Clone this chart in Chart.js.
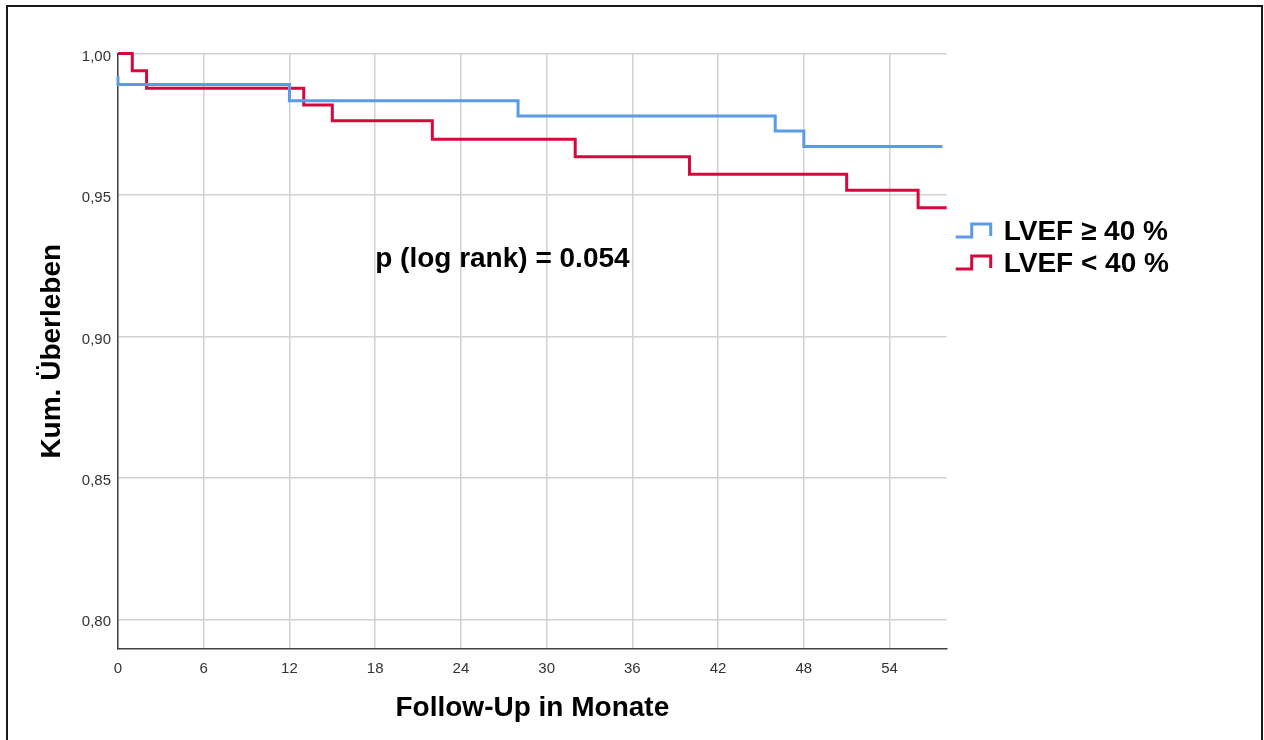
<!DOCTYPE html>
<html>
<head>
<meta charset="utf-8">
<script src="https://cdn.jsdelivr.net/npm/chart.js@4.4.1/dist/chart.umd.min.js"></script>
<style>
  html, body { margin: 0; padding: 0; background: #fff; overflow: hidden; }
  #wrap { position: relative; width: 1264px; height: 740px; }
  #frame { position: absolute; left: 6px; top: 5px; width: 1257px; height: 760px;
           border: 2px solid #1a1a1a; box-sizing: border-box; pointer-events: none; }
  canvas { position: absolute; left: 0; top: 0; }
</style>
</head>
<body>
<div id="wrap">
  <canvas id="km" width="1264" height="740"></canvas>
  <div id="frame"></div>
</div>
<script>
const FONT = "Arial, 'Liberation Sans', sans-serif";

// Kaplan-Meier survival estimates (months, cumulative survival)
const seriesNames = ['LVEF \u2265 40 %', 'LVEF < 40 %'];
const monthsHigh   = [0, 0, 12, 28, 46, 48, 57.7];
const survivalHigh = [0.992, 0.989, 0.9833, 0.9779, 0.9726, 0.9671, 0.9671];
const monthsLow    = [0, 1, 2, 13, 15, 22, 32, 40, 51, 56, 58];
const survivalLow  = [1.0, 0.9939, 0.9877, 0.9818, 0.9762, 0.9697, 0.9635, 0.9573, 0.9517, 0.9455, 0.9455];

// Axis ticks
const xTicks = [0, 6, 12, 18, 24, 30, 36, 42, 48, 54];
const yTicks = [0.80, 0.85, 0.90, 0.95, 1.00];

const xTitle = 'Follow-Up in Monate';
const yTitle = 'Kum. \u00dcberleben';
const pText  = 'p (log rank) = 0.054';

const colours = ['#5b9be6', '#d6083c'];

const toPoints = (xs, ys) => xs.map((x, i) => ({ x: x, y: ys[i] }));

// Legend with step-shaped keys and the log-rank annotation
const overlay = {
  id: 'overlay',
  afterDraw(chart) {
    const ctx = chart.ctx;
    const xs = chart.scales.x, ys = chart.scales.y;
    ctx.save();
    // annotation
    ctx.font = 'bold 28px ' + FONT;
    ctx.fillStyle = '#000';
    ctx.textAlign = 'left';
    ctx.textBaseline = 'middle';
    ctx.fillText(pText, xs.getPixelForValue(18), ys.getPixelForValue(0.9274));

    // legend
    const keyX = chart.chartArea.right + 9;
    chart.data.datasets.forEach((ds, i) => {
      const low = 237 + 32 * i;
      const high = low - 13;
      ctx.strokeStyle = ds.borderColor;
      ctx.lineWidth = 3;
      ctx.lineJoin = 'miter';
      ctx.beginPath();
      ctx.moveTo(keyX, low);
      ctx.lineTo(keyX + 16, low);
      ctx.lineTo(keyX + 16, high);
      ctx.lineTo(keyX + 35, high);
      ctx.lineTo(keyX + 35, low - 1);
      ctx.stroke();
      ctx.fillStyle = '#000';
      ctx.font = 'bold 28px ' + FONT;
      ctx.textBaseline = 'middle';
      ctx.fillText(ds.label, keyX + 48, (low + high) / 2 + 2);
    });
    ctx.restore();
  }
};

new Chart(document.getElementById('km'), {
  type: 'line',
  data: {
    datasets: [
      { label: seriesNames[0], data: toPoints(monthsHigh, survivalHigh),
        borderColor: colours[0], backgroundColor: colours[0] },
      { label: seriesNames[1], data: toPoints(monthsLow, survivalLow),
        borderColor: colours[1], backgroundColor: colours[1] }
    ]
  },
  options: {
    responsive: false,
    animation: false,
    layout: { padding: { left: 0, top: 53.5, right: 317.3, bottom: 0 } },
    datasets: { line: { stepped: true, borderWidth: 3, fill: false, clip: 6, pointRadius: 0, tension: 0 } },
    plugins: { legend: { display: false }, tooltip: { enabled: false } },
    scales: {
      x: {
        type: 'linear', min: 0, max: 58,
        afterBuildTicks: s => { s.ticks = xTicks.map(v => ({ value: v })); },
        afterFit: s => { s.height = 91; },
        grid: { color: '#d2d2d2', lineWidth: 1.5, drawTicks: false },
        border: { color: '#444', width: 1.5 },
        ticks: { padding: 11, autoSkip: false, maxRotation: 0, color: '#333',
                 font: { family: FONT, size: 15 } },
        title: { display: true, text: xTitle, color: '#000',
                 font: { family: FONT, size: 28, weight: 'bold', lineHeight: 1.2 },
                 padding: { top: 0, bottom: 15 } }
      },
      y: {
        type: 'linear', min: 0.7895, max: 1.0,
        afterBuildTicks: s => { s.ticks = yTicks.map(v => ({ value: v })); },
        afterFit: s => { s.width = 118; },
        grid: { color: '#d2d2d2', lineWidth: 1.5, drawTicks: false },
        border: { color: '#444', width: 1.5 },
        ticks: { padding: 7, labelOffset: 3, color: '#333',
                 font: { family: FONT, size: 15 },
                 callback: v => v.toFixed(2).replace('.', ',') },
        title: { display: true, text: yTitle, color: '#000',
                 font: { family: FONT, size: 28, weight: 'bold', lineHeight: 1.2 },
                 padding: { top: 35, bottom: 0 } }
      }
    }
  },
  plugins: [overlay]
});
</script>
</body>
</html>
